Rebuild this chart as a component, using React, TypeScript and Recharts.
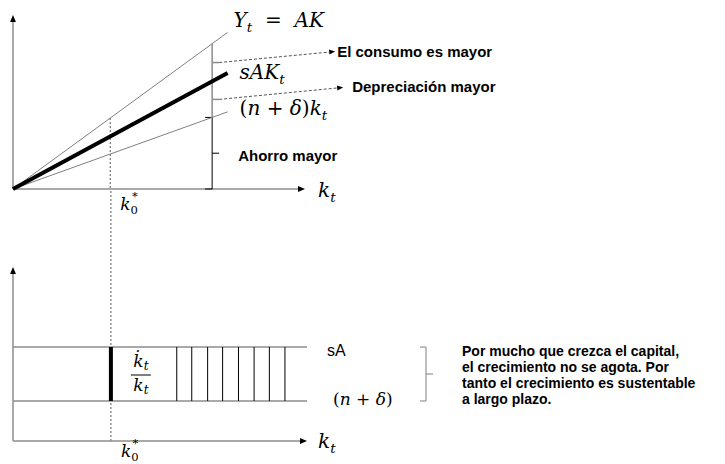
import React from 'react';
import { LineChart, Line, XAxis, YAxis, ReferenceLine, ReferenceDot } from 'recharts';

// upper panel: capital stock and the three lines through the origin
const capital = [0, 7.35];
const output = [0, 5.4]; // Y = AK
const saving = [0, 4.0]; // sAK
const breakEven = [0, 2.66]; // (n + δ)k

// lower panel: growth rate of capital, flat in k
const growthCapital = [0, 10];
const savingRate = [3.24, 3.24]; // sA
const breakEvenRate = [1.38, 1.38]; // n + δ

const k0 = 3.33;
const bracketK = 6.82;
const stripeK = [5.57, 6.08, 6.62, 7.13, 7.67, 8.2, 8.72, 9.25];

const noteLines = [
  'Por mucho que crezca el capital,',
  'el crecimiento no se agota. Por',
  'tanto el crecimiento es sustentable',
  'a largo plazo.',
];

const MATH = '"DejaVu Serif", serif';
const SANS = '"Liberation Sans", Arial, sans-serif';
const AXIS = '#8c8c8c';
const THIN = '#808080';
const DASH = '#555555';

const topData = capital.map((k, i) => ({
  k,
  output: output[i],
  saving: saving[i],
  breakEven: breakEven[i],
}));

const bottomData = growthCapital.map((k, i) => ({
  k,
  sA: savingRate[i],
  nd: breakEvenRate[i],
}));

// straight-line value of an upper-panel series at capital k
const valueAt = (ys: number[], k: number) =>
  ys[0] + ((ys[1] - ys[0]) * (k - capital[0])) / (capital[1] - capital[0]);

const arrowEl = (
  x1: number, y1: number, x2: number, y2: number,
  color: string, width: number, dash?: string, head = 7,
) => {
  const a = Math.atan2(y2 - y1, x2 - x1);
  const bx = x2 - head * Math.cos(a);
  const by = y2 - head * Math.sin(a);
  const w = head * 0.42;
  const pts = `${x2},${y2} ${bx - w * Math.sin(a)},${by + w * Math.cos(a)} ${bx + w * Math.sin(a)},${by - w * Math.cos(a)}`;
  return (
    <g>
      <line x1={x1} y1={y1} x2={bx} y2={by} stroke={color} strokeWidth={width} strokeDasharray={dash} />
      <polygon points={pts} fill="#000" />
    </g>
  );
};

const arrow = (color: string, width: number) => (p: any) =>
  arrowEl(p.x1, p.y1, p.x2, p.y2, color, width);

// vertical brace: optional end hooks to the left, centre tick to the right
const brace = (color: string, width: number, hook: number, offset = 0) => (p: any) => {
  const x = p.x1 + offset;
  const mid = (p.y1 + p.y2) / 2;
  return (
    <g stroke={color} strokeWidth={width} fill="none">
      <line x1={x} y1={p.y1} x2={x} y2={p.y2} />
      {hook > 0 && <line x1={x - hook} y1={p.y1} x2={x} y2={p.y1} />}
      {hook > 0 && <line x1={x - hook} y1={p.y2} x2={x} y2={p.y2} />}
      <line x1={x} y1={mid} x2={x + 7} y2={mid} />
    </g>
  );
};

const callout = (text: string, dx: number, dy: number, gap: number) => (p: any) => {
  const x1 = p.cx + 7;
  const y1 = p.cy;
  const x2 = x1 + dx;
  const y2 = y1 + dy;
  return (
    <g>
      {arrowEl(x1, y1, x2, y2, DASH, 1, '3 2', 6)}
      <text x={x2 + gap} y={y2 + 5} fontFamily={SANS} fontWeight="bold" fontSize={15} fill="#000">
        {text}
      </text>
    </g>
  );
};

const note = (text: string, dx: number, dy: number) => (p: any) => (
  <text x={p.cx + dx} y={p.cy + dy} fontFamily={SANS} fontWeight="bold" fontSize={15} fill="#000">
    {text}
  </text>
);

type Kind = 'it' | 'up' | 'sub' | 'subup' | 'sup';
type Piece = [string, Kind?, number?];

// math label: italic letters, upright operators, sub/superscripts
const math = (pieces: Piece[], dx: number, dy: number, size: number) => (p: any) => {
  let shift = 0;
  return (
    <text x={p.cx + dx} y={p.cy + dy} fontFamily={MATH} fontSize={size} fill="#000" style={{ whiteSpace: 'pre' }}>
      {pieces.map(([s, kind = 'it', back = 0], i) => {
        const small = kind === 'sub' || kind === 'subup' || kind === 'sup';
        const target = kind === 'sub' || kind === 'subup' ? size * 0.24 : kind === 'sup' ? -size * 0.58 : 0;
        const d = target - shift;
        shift = target;
        return (
          <tspan
            key={i}
            dy={d}
            dx={back}
            fontStyle={kind === 'up' || kind === 'subup' ? 'normal' : 'italic'}
            fontSize={small ? size * 0.68 : size}
          >
            {s}
          </tspan>
        );
      })}
    </text>
  );
};

const fraction = (dx: number) => (p: any) => {
  const x = p.cx + dx;
  return (
    <g fontFamily={MATH} fontStyle="italic" fill="#000">
      <text x={x} y={p.cy - 7} fontSize={17} textAnchor="middle">
        {'k\u0307'}
        <tspan fontSize={12} dy={3}>t</tspan>
      </text>
      <line x1={x - 10} y1={p.cy + 1} x2={x + 10} y2={p.cy + 1} stroke="#000" strokeWidth={1} />
      <text x={x} y={p.cy + 17} fontSize={17} textAnchor="middle">
        k<tspan fontSize={12} dy={3}>t</tspan>
      </text>
    </g>
  );
};

const paragraph = (dx: number, dy: number) => (p: any) => (
  <text x={p.cx + dx} y={p.cy + dy} fontFamily={SANS} fontWeight="bold" fontSize={14} fill="#000">
    {noteLines.map((l, i) => (
      <tspan key={i} x={p.cx + dx} dy={i === 0 ? 0 : 16}>
        {l}
      </tspan>
    ))}
  </text>
);

const kt: Piece[] = [['k'], ['t', 'sub']];
const k0star: Piece[] = [['k'], ['0', 'subup'], ['*', 'sup', -6]];
const ndPieces: Piece[] = [['(', 'up'], ['n'], [' + ', 'up'], ['δ'], [')', 'up']];

const App = () => {
  const topAK = valueAt(output, bracketK);
  const topS = valueAt(saving, bracketK);
  const topND = valueAt(breakEven, bracketK);
  const sA = savingRate[1];
  const nd = breakEvenRate[1];
  const kEnd = capital[1];
  const gEnd = growthCapital[1];

  return (
    <div style={{ position: 'relative', width: 725, height: 464, background: '#fff' }}>
      <style>{'body{margin:0}'}</style>
      <div style={{ position: 'absolute', left: 0, top: 0 }}>
        <LineChart width={725} height={464} data={topData} margin={{ top: 15, right: 420, bottom: 275, left: 13 }}>
          <XAxis dataKey="k" type="number" domain={[0, 10]} hide />
          <YAxis type="number" domain={[0, 6]} hide />
          <ReferenceLine
            segment={[{ x: k0, y: valueAt(output, k0) }, { x: k0, y: 0 }]}
            stroke={DASH}
            strokeDasharray="2 2"
            ifOverflow="visible"
          />
          <ReferenceLine segment={[{ x: 0, y: 0 }, { x: 10, y: 0 }]} ifOverflow="visible" shape={arrow(AXIS, 1.5)} />
          <ReferenceLine segment={[{ x: 0, y: 0 }, { x: 0, y: 6 }]} ifOverflow="visible" shape={arrow(AXIS, 1.5)} />

          <ReferenceLine segment={[{ x: bracketK, y: topAK }, { x: bracketK, y: topS }]} ifOverflow="visible" shape={brace(AXIS, 1.5, 0)} />
          <ReferenceLine segment={[{ x: bracketK, y: topS }, { x: bracketK, y: topND }]} ifOverflow="visible" shape={brace(AXIS, 1.5, 0)} />
          <ReferenceLine segment={[{ x: bracketK, y: topND }, { x: bracketK, y: 0 }]} ifOverflow="visible" shape={brace('#000', 1, 7)} />

          <Line dataKey="output" stroke={THIN} strokeWidth={1} dot={false} activeDot={false} isAnimationActive={false} />
          <Line dataKey="breakEven" stroke={THIN} strokeWidth={1} dot={false} activeDot={false} isAnimationActive={false} />
          <Line dataKey="saving" stroke="#000" strokeWidth={4} dot={false} activeDot={false} isAnimationActive={false} />

          <ReferenceDot x={bracketK} y={(topAK + topS) / 2} r={0} ifOverflow="visible" shape={callout('El consumo es mayor', 116, -11, 2)} />
          <ReferenceDot x={bracketK} y={(topS + topND) / 2} r={0} ifOverflow="visible" shape={callout('Depreciación mayor', 124, -12, 9)} />
          <ReferenceDot x={bracketK} y={topND / 2} r={0} ifOverflow="visible" shape={note('Ahorro mayor', 26, 8)} />

          <ReferenceDot x={kEnd} y={output[1]} r={0} ifOverflow="visible" shape={math([['Y'], ['t', 'sub'], ['  =  ', 'up'], ['AK']], 6, -5, 20)} />
          <ReferenceDot x={kEnd} y={saving[1]} r={0} ifOverflow="visible" shape={math([['sAK'], ['t', 'sub']], 12, 6, 20)} />
          <ReferenceDot x={kEnd} y={breakEven[1]} r={0} ifOverflow="visible" shape={math([...ndPieces, ['k'], ['t', 'sub']], 12, 3, 20)} />
          <ReferenceDot x={10} y={0} r={0} ifOverflow="visible" shape={math(kt, 13, 8, 20)} />
          <ReferenceDot x={k0} y={0} r={0} ifOverflow="visible" shape={math(k0star, 10, 21, 17)} />
        </LineChart>
      </div>

      <div style={{ position: 'absolute', left: 0, top: 0 }}>
        <LineChart width={725} height={464} data={bottomData} margin={{ top: 189, right: 418, bottom: 23, left: 13 }}>
          <XAxis dataKey="k" type="number" domain={[0, 10]} hide />
          <YAxis type="number" domain={[0, 8.69]} hide />
          <ReferenceLine x={k0} stroke={DASH} strokeDasharray="2 2" />
          <ReferenceLine segment={[{ x: 0, y: 0 }, { x: 10, y: 0 }]} ifOverflow="visible" shape={arrow(AXIS, 1.5)} />
          <ReferenceLine segment={[{ x: 0, y: 0 }, { x: 0, y: 6 }]} ifOverflow="visible" shape={arrow(AXIS, 1.5)} />

          <Line dataKey="sA" stroke={AXIS} strokeWidth={1.5} dot={false} activeDot={false} isAnimationActive={false} />
          <Line dataKey="nd" stroke={AXIS} strokeWidth={1.5} dot={false} activeDot={false} isAnimationActive={false} />

          {stripeK.map((k) => (
            <ReferenceLine key={k} segment={[{ x: k, y: nd }, { x: k, y: sA }]} stroke="#000" strokeWidth={1} />
          ))}
          <ReferenceLine segment={[{ x: k0, y: nd }, { x: k0, y: sA }]} stroke="#000" strokeWidth={4} />

          <ReferenceDot x={k0} y={(sA + nd) / 2} r={0} shape={fraction(30)} />
          <ReferenceDot x={gEnd} y={sA} r={0} ifOverflow="visible" shape={(p: any) => (
            <text x={p.cx + 20} y={p.cy + 9} fontFamily={SANS} fontSize={16} fill="#000">sA</text>
          )} />
          <ReferenceDot x={gEnd} y={nd} r={0} ifOverflow="visible" shape={math(ndPieces, 26, 4, 17)} />
          <ReferenceLine segment={[{ x: gEnd, y: sA }, { x: gEnd, y: nd }]} ifOverflow="visible" shape={brace(THIN, 1, 6, 119)} />
          <ReferenceDot x={gEnd} y={(sA + nd) / 2} r={0} ifOverflow="visible" shape={paragraph(155, -18)} />

          <ReferenceDot x={gEnd} y={0} r={0} ifOverflow="visible" shape={math(kt, 11, 7, 20)} />
          <ReferenceDot x={k0} y={0} r={0} ifOverflow="visible" shape={math(k0star, 10, 16, 17)} />
        </LineChart>
      </div>
    </div>
  );
};

export default App;
